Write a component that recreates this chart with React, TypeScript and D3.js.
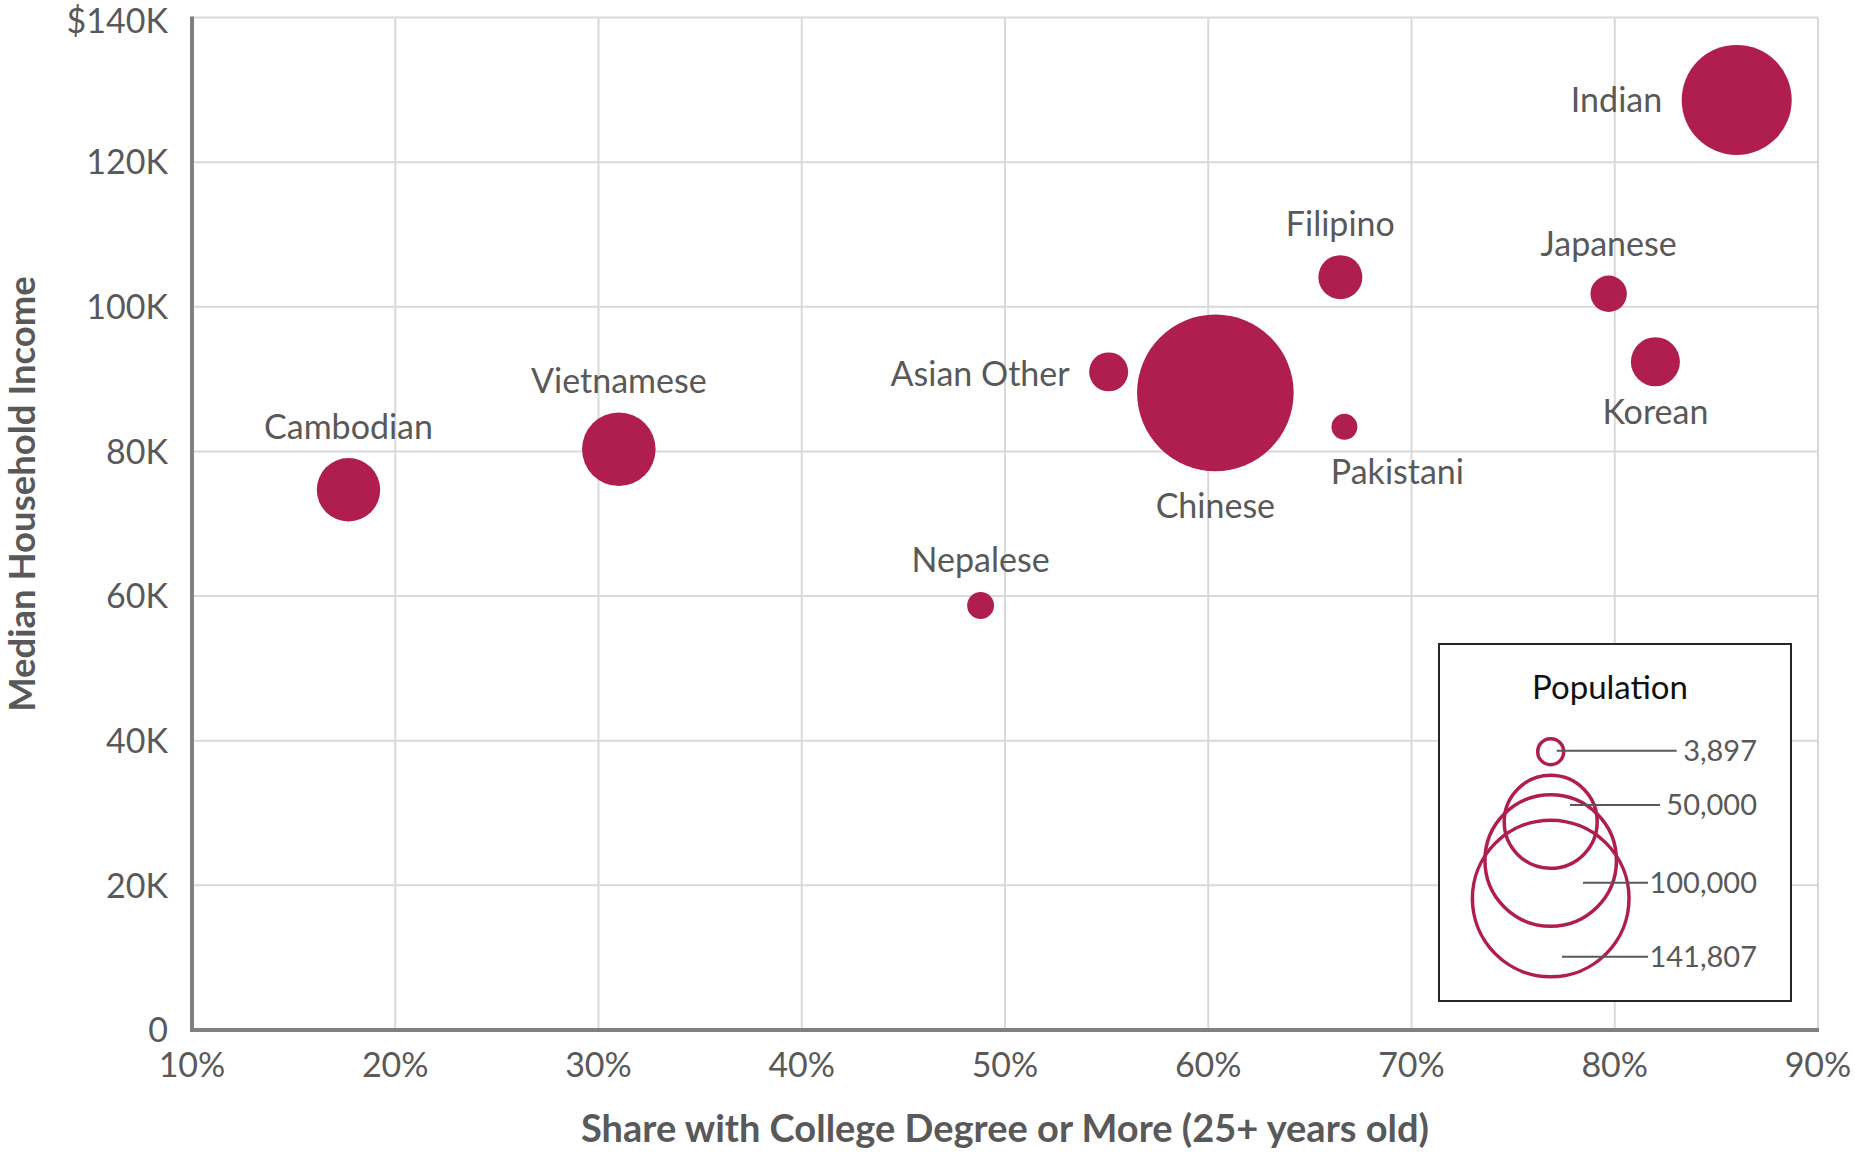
import React from "react";
import * as d3 from "d3";

const categories = ["Cambodian", "Vietnamese", "Nepalese", "Asian Other", "Chinese", "Filipino", "Pakistani", "Japanese", "Korean", "Indian"];
const collegeShare = [0.177, 0.310, 0.488, 0.551, 0.6035, 0.665, 0.667, 0.797, 0.820, 0.860];
const medianIncome = [74700, 80300, 58700, 91000, 88100, 104100, 83400, 101800, 92400, 128600];
const population = [23240, 31320, 4200, 8790, 141807, 11190, 3897, 7660, 13880, 70000];

const labelSide = ["above", "above", "above", "left", "below", "above", "below", "above", "below", "left"];
const labelNudge: [number, number][] = [[0, 0], [0, 0], [0, 0], [0, 2], [0, 3], [0, 0], [53, 0], [0, 0], [0, -6], [0, 0]];

const xTicks = [0.1, 0.2, 0.3, 0.4, 0.5, 0.6, 0.7, 0.8, 0.9];
const xTickLabels = ["10%", "20%", "30%", "40%", "50%", "60%", "70%", "80%", "90%"];
const yTicks = [0, 20000, 40000, 60000, 80000, 100000, 120000, 140000];
const yTickLabels = ["0", "20K", "40K", "60K", "80K", "100K", "120K", "$140K"];

const legendValues = [3897, 50000, 100000, 141807];
const legendLabels = ["3,897", "50,000", "100,000", "141,807"];

const W = 1855;
const H = 1153;
const M = { left: 192, right: 1818, top: 17.5, bottom: 1030 };
const FONT = "Lato, 'Open Sans', sans-serif";
const TEXT = "#595959";
const BUBBLE = "#AF1E4F";

export default function App() {
  const x = d3.scaleLinear().domain([0.1, 0.9]).range([M.left, M.right]);
  const y = d3.scaleLinear().domain([0, 140000]).range([M.bottom, M.top]);
  const r = d3.scaleSqrt().domain([0, 141807]).range([0, 78.3]);

  // legend layout
  const lg = { x: 1439, y: 644, w: 352, h: 357 };
  const lcx = 1550.7;
  const legendCy = [751.7, 821.8, 860.5, 898.5];
  const legendLineY = [750.7, 805, 882.7, 956.7];
  const legendLineX0 = [1556.7, 1570, 1583, 1562];
  const legendLineX1 = [1676.7, 1660, 1648, 1648];
  const legendTextX = 1757;

  const order = d3.range(categories.length).sort((a, b) => population[b] - population[a]);

  return (
    <svg width={W} height={H} style={{ position: "absolute", left: 0, top: 0, display: "block", background: "#fff" }} fontFamily={FONT}>
      <rect x={0} y={0} width={W} height={H} fill="#fff" />
      {/* grid */}
      {xTicks.slice(1).map((t) => (
        <line key={"gx" + t} x1={x(t)} x2={x(t)} y1={M.top} y2={M.bottom} stroke="#d9d9d9" strokeWidth={2} />
      ))}
      {yTicks.slice(1).map((t) => (
        <line key={"gy" + t} x1={M.left} x2={M.right} y1={y(t)} y2={y(t)} stroke="#d9d9d9" strokeWidth={2} />
      ))}
      {/* axes */}
      <line x1={M.left} x2={M.left} y1={M.top - 1} y2={M.bottom + 2} stroke="#808080" strokeWidth={4} />
      <line x1={M.left - 2} x2={M.right + 1} y1={M.bottom} y2={M.bottom} stroke="#808080" strokeWidth={4} />
      {/* tick labels */}
      {yTicks.map((t, i) => (
        <text key={"yt" + t} x={168} y={y(t) + (i === yTicks.length - 1 ? 3 : 0)} dy="0.36em" textAnchor="end" fontSize={34} fill={TEXT}>
          {yTickLabels[i]}
        </text>
      ))}
      {xTicks.map((t, i) => (
        <text key={"xt" + t} x={x(t)} y={1065} dy="0.36em" textAnchor="middle" fontSize={34} fill={TEXT}>
          {xTickLabels[i]}
        </text>
      ))}
      {/* axis titles */}
      <text x={(M.left + M.right) / 2} y={1142} textAnchor="middle" fontSize={38} fontWeight="bold" fill={TEXT}>
        Share with College Degree or More (25+ years old)
      </text>
      <text transform={`translate(35, 494) rotate(-90)`} textAnchor="middle" fontSize={36.5} fontWeight="bold" fill={TEXT}>
        Median Household Income
      </text>
      {/* bubbles */}
      {order.map((i) => (
        <circle key={"b" + i} cx={x(collegeShare[i])} cy={y(medianIncome[i])} r={r(population[i])} fill={BUBBLE} />
      ))}
      {/* labels */}
      {categories.map((c, i) => {
        const cx = x(collegeShare[i]);
        const cy = y(medianIncome[i]);
        const rr = r(population[i]);
        let tx = cx, ty = cy, anchor: "middle" | "end" = "middle";
        if (labelSide[i] === "above") {
          ty = cy - rr - 19.5;
        } else if (labelSide[i] === "below") {
          ty = cy + rr + 44;
        } else {
          anchor = "end";
          tx = cx - rr - 19.5;
          ty = cy + 12;
        }
        return (
          <text key={"l" + c} x={tx + labelNudge[i][0]} y={ty + labelNudge[i][1]} textAnchor={anchor} fontSize={34} fill={TEXT}>
            {c}
          </text>
        );
      })}
      {/* legend */}
      <rect x={lg.x} y={lg.y} width={lg.w} height={lg.h} fill="#fff" stroke="#262626" strokeWidth={2} />
      <text x={lg.x + lg.w / 2 - 5} y={699} textAnchor="middle" fontSize={33} fill="#111">
        Population
      </text>
      {legendValues.map((v, i) => (
        <circle key={"lc" + v} cx={lcx} cy={legendCy[i]} r={r(v)} fill="none" stroke={BUBBLE} strokeWidth={3.5} />
      ))}
      {legendValues.map((v, i) => (
        <g key={"ll" + v}>
          <line x1={legendLineX0[i]} x2={legendLineX1[i]} y1={legendLineY[i]} y2={legendLineY[i]} stroke="#595959" strokeWidth={2} />
          <text x={legendTextX} y={legendLineY[i]} dy="0.36em" textAnchor="end" fontSize={29} fill={TEXT}>
            {legendLabels[i]}
          </text>
        </g>
      ))}
    </svg>
  );
}
